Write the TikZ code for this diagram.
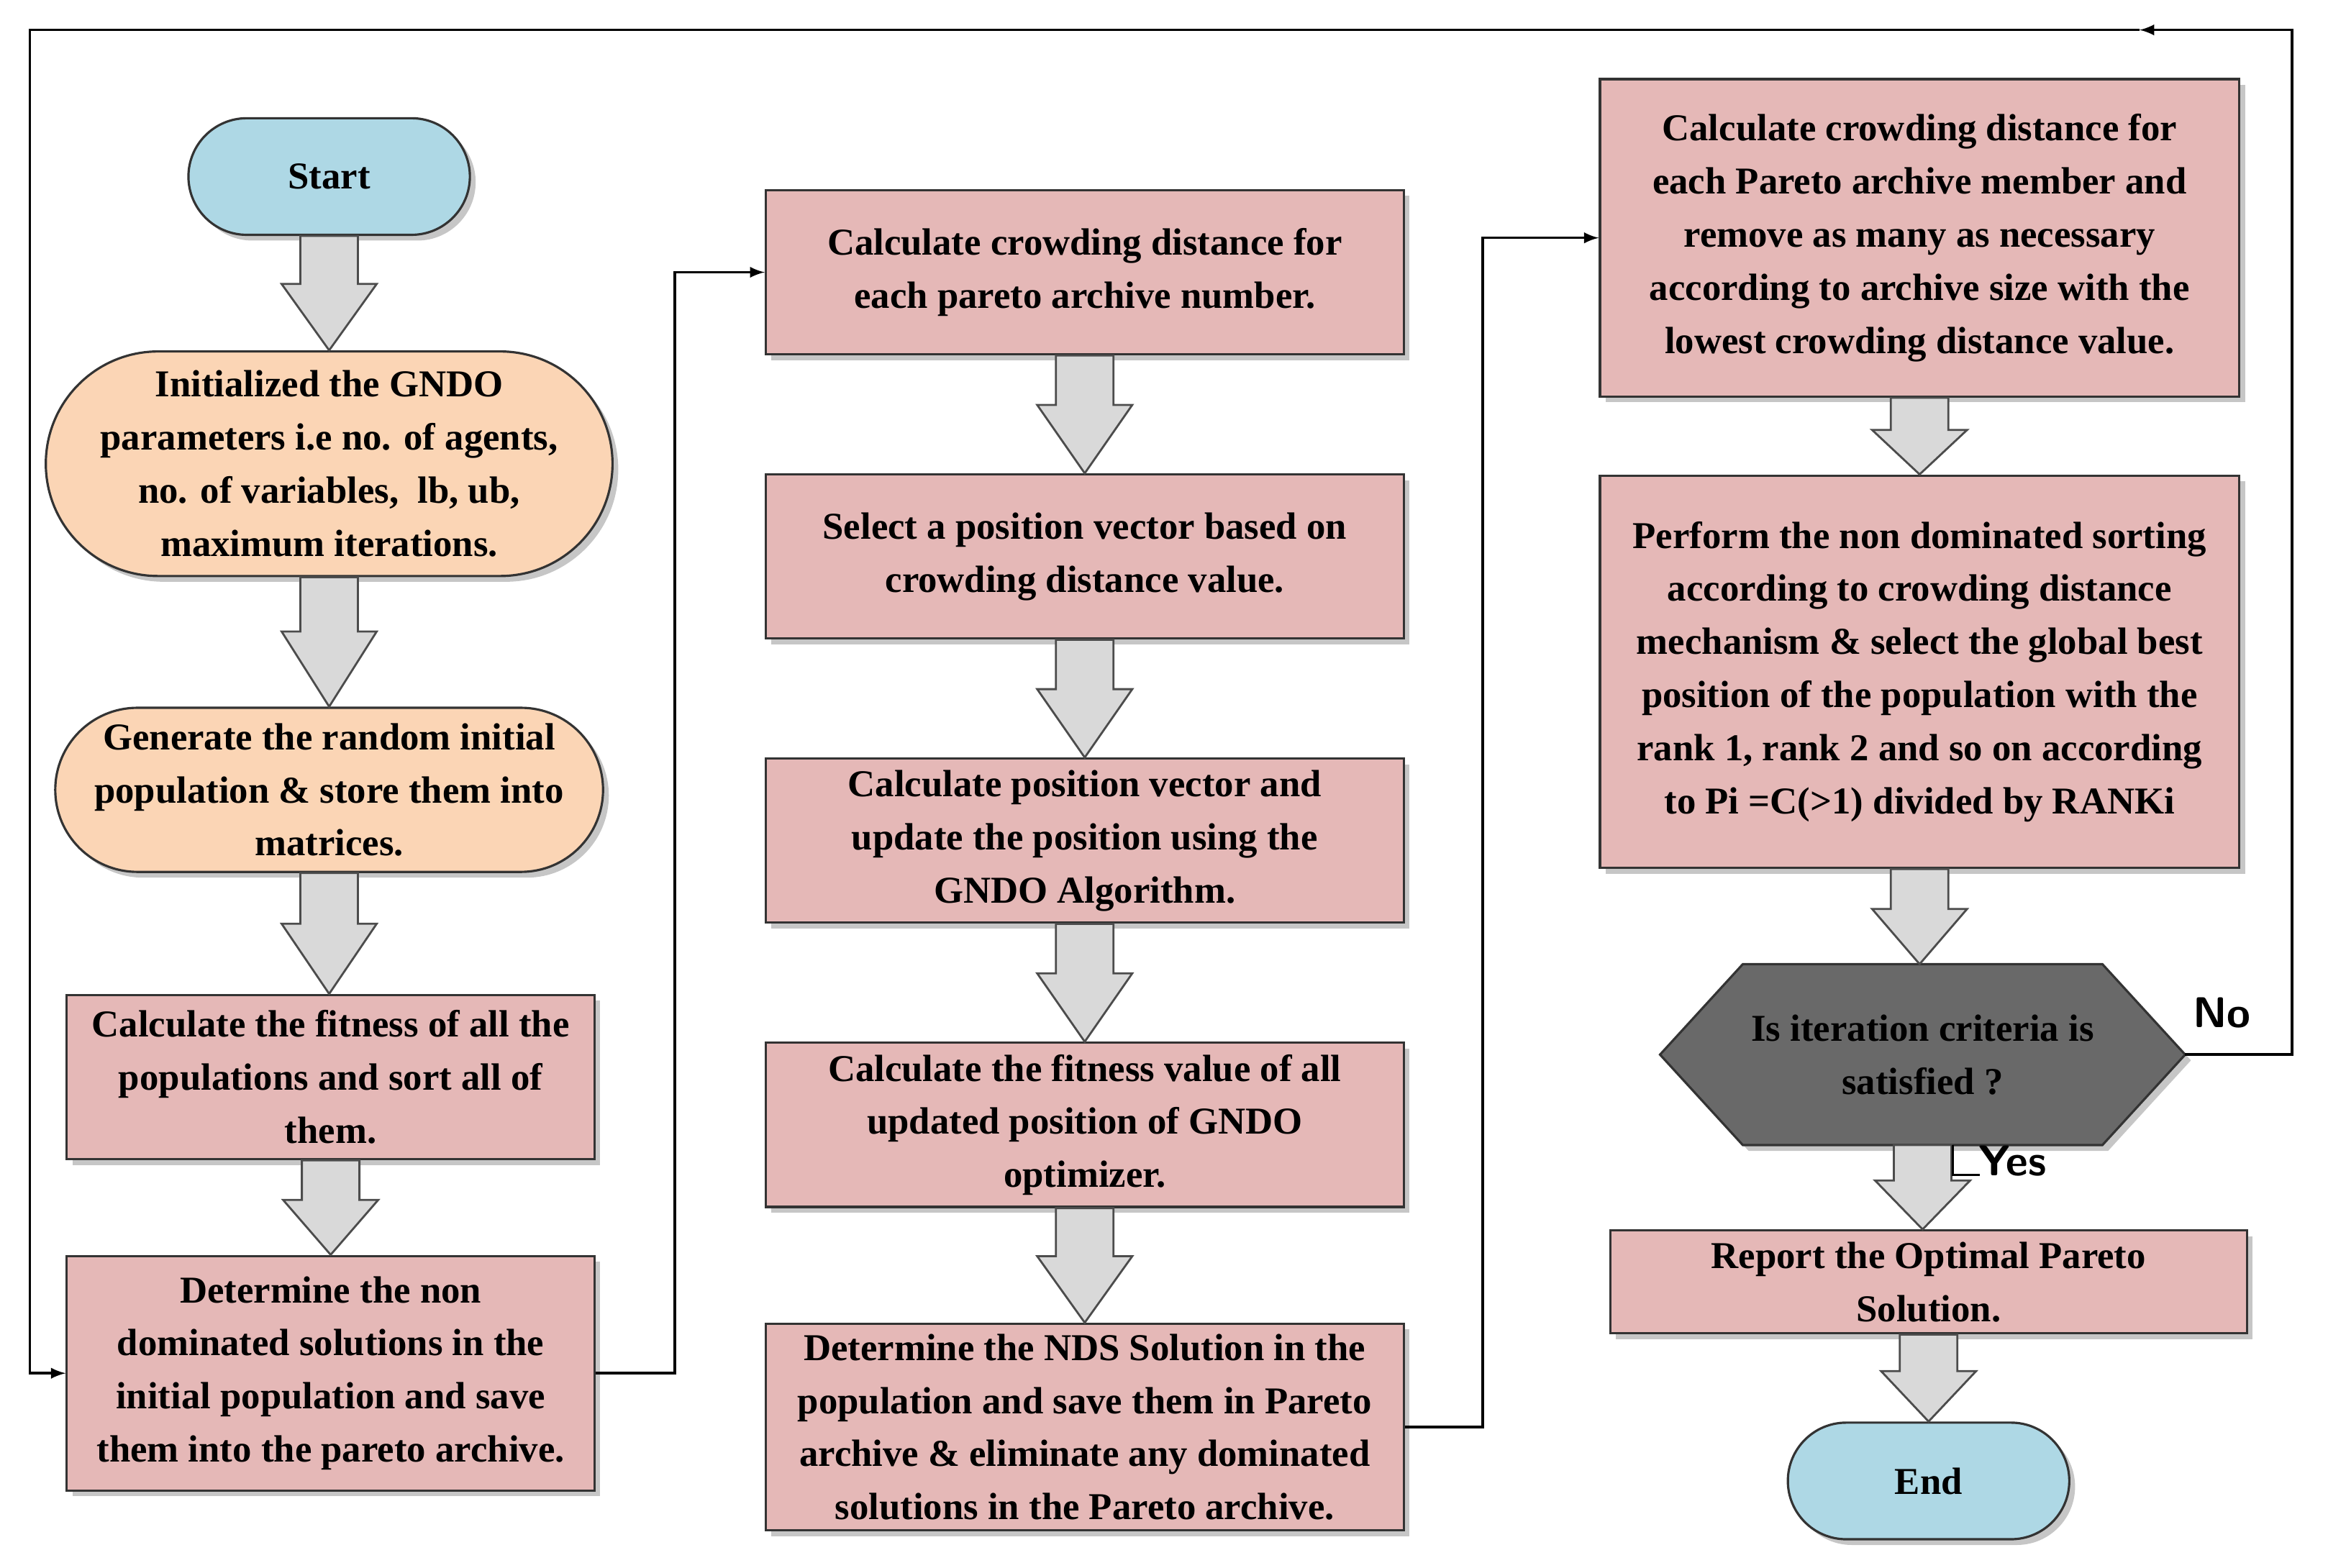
\documentclass[tikz,border=0pt]{standalone}
\usepackage{fontspec}
\setmainfont{Liberation Serif}
\usetikzlibrary{positioning, calc, shapes.misc, shadows, backgrounds}
\definecolor{boxpink}{RGB}{229,184,183}
\definecolor{boxpeach}{RGB}{251,213,181}
\definecolor{boxblue}{RGB}{174,216,229}
\definecolor{hexgray}{RGB}{105,105,105}
\tikzset{
  base/.style={draw=black!80, line width=0.9pt, align=center, font=\fontsize{15}{21}\selectfont\bfseries, inner sep=2pt, drop shadow={opacity=0.45, shadow xshift=0.08cm, shadow yshift=-0.08cm}},
  process/.style={base, rectangle, fill=boxpink},
  term/.style={base, rounded rectangle, fill=boxblue, minimum width=4.05cm, minimum height=1.62cm},
  init/.style={base, rounded rectangle, fill=boxpeach, minimum width=7.28cm},
  decision/.style={align=center, font=\fontsize{15}{21}\selectfont\bfseries, rectangle, minimum width=7.28cm, minimum height=2.5cm},
  hexline/.style={draw=black!80, line width=0.9pt, fill=hexgray, drop shadow={opacity=0.45, shadow xshift=0.08cm, shadow yshift=-0.08cm}},
  arrow/.style={line width=1pt, ->, >=latex},
  blk/.style={draw=black!70, line width=0.8pt, fill=black!15}
}
\newcommand{\blockarrow}[2]{%
  \draw[blk] let \p1=(#1.south), \p2=(#2.north), \n1={\y1+0.42*(\y2-\y1)} in
    (\x1-0.4cm,\y1) -- (\x1-0.4cm,\n1) -- (\x1-0.66cm,\n1) -- (\x1,\y2)
    -- (\x1+0.66cm,\n1) -- (\x1+0.4cm,\n1) -- (\x1+0.4cm,\y1) -- cycle;}
\begin{document}
\begin{tikzpicture}[x=0.02079cm, y=-0.02079cm]
  \useasboundingbox (0,0) rectangle (1568,1048);
  % first column
  \node(start)[term] at (220,118) {Start};
  \node(init)[init, minimum height=3.12cm] at (220,310) {Initialized the GNDO\\parameters i.e no. of agents,\\no. of variables,~ lb, ub,\\maximum iterations.};
  \node(gen)[init, minimum height=2.28cm] at (220,528) {Generate the random initial\\population \& store them into\\matrices.};
  \node(fit)[process, minimum width=7.33cm, minimum height=2.28cm] at (221,720) {Calculate the fitness of all the\\populations and sort all of\\them.};
  \node(det)[process, minimum width=7.33cm, minimum height=3.26cm] at (221,918) {Determine the non\\dominated solutions in the\\initial population and save\\them into the pareto archive.};
  % second column
  \node(crowd)[process, minimum width=8.86cm, minimum height=2.28cm] at (725,182) {Calculate crowding distance for\\each pareto archive number.};
  \node(select)[process, minimum width=8.86cm, minimum height=2.28cm] at (725,372) {Select a position vector based on\\crowding distance value.};
  \node(update)[process, minimum width=8.86cm, minimum height=2.28cm] at (725,562) {Calculate position vector and\\update the position using the\\GNDO Algorithm.};
  \node(fitval)[process, minimum width=8.86cm, minimum height=2.28cm] at (725,752) {Calculate the fitness value of all\\updated position of GNDO\\optimizer.};
  \node(nds)[process, minimum width=8.86cm, minimum height=2.87cm] at (725,954) {Determine the NDS Solution in the\\population and save them in Pareto\\archive \& eliminate any dominated\\solutions in the Pareto archive.};
  % third column
  \node(remove)[process, minimum width=8.88cm, minimum height=4.41cm] at (1283,159) {Calculate crowding distance for\\each Pareto archive member and\\remove as many as necessary\\according to archive size with the\\lowest crowding distance value.};
  \node(sort)[process, minimum width=8.88cm, minimum height=5.45cm] at (1283,449) {Perform the non dominated sorting\\according to crowding distance\\mechanism \& select the global best\\position of the population with the\\rank 1, rank 2 and so on according\\to Pi =C(>1) divided by RANKi};
  \node(check)[decision] at (1285,705) {Is iteration criteria is\\satisfied ?};
  \node(report)[process, minimum width=8.84cm, minimum height=1.43cm] at (1289,857) {Report the Optimal Pareto\\Solution.};
  \node(stop)[term] at (1289,990) {End};
  \begin{scope}[on background layer]
    \draw[hexline] (check.west) -- ([xshift=1.15cm]check.north west) -- ([xshift=-1.15cm]check.north east)
      -- (check.east) -- ([xshift=-1.15cm]check.south east) -- ([xshift=1.15cm]check.south west) -- cycle;
  \end{scope}
  % block arrows
  \blockarrow{start}{init}
  \blockarrow{init}{gen}
  \blockarrow{gen}{fit}
  \blockarrow{fit}{det}
  \blockarrow{crowd}{select}
  \blockarrow{select}{update}
  \blockarrow{update}{fitval}
  \blockarrow{fitval}{nds}
  \blockarrow{remove}{sort}
  \blockarrow{sort}{check}
  \blockarrow{check}{report}
  \blockarrow{report}{stop}
  % connectors
  \coordinate(turnA) at (1532,20);
  \coordinate(loopmid) at (1430,20);
  \coordinate(turnB) at (20,20);
  \draw[arrow](det.east) -- ++(53,0) |- (crowd.west);
  \draw[arrow](nds.east) -- ++(52,0) |- (remove.west);
  \draw[arrow](check.east) -| (turnA) -- (loopmid);
  \draw[arrow](loopmid) -- (turnB) |- (det.west);
  \draw[line width=0.8pt] ([xshift=0.42cm]check.south) -- ++(0,20) -- ++(18,0);
  \node[font=\fontsize{17}{20}\selectfont\sffamily\bfseries] at (1485,677) {No};
  \node[font=\fontsize{17}{20}\selectfont\sffamily\bfseries] at (1345,776) {Yes};
\end{tikzpicture}
\end{document}
